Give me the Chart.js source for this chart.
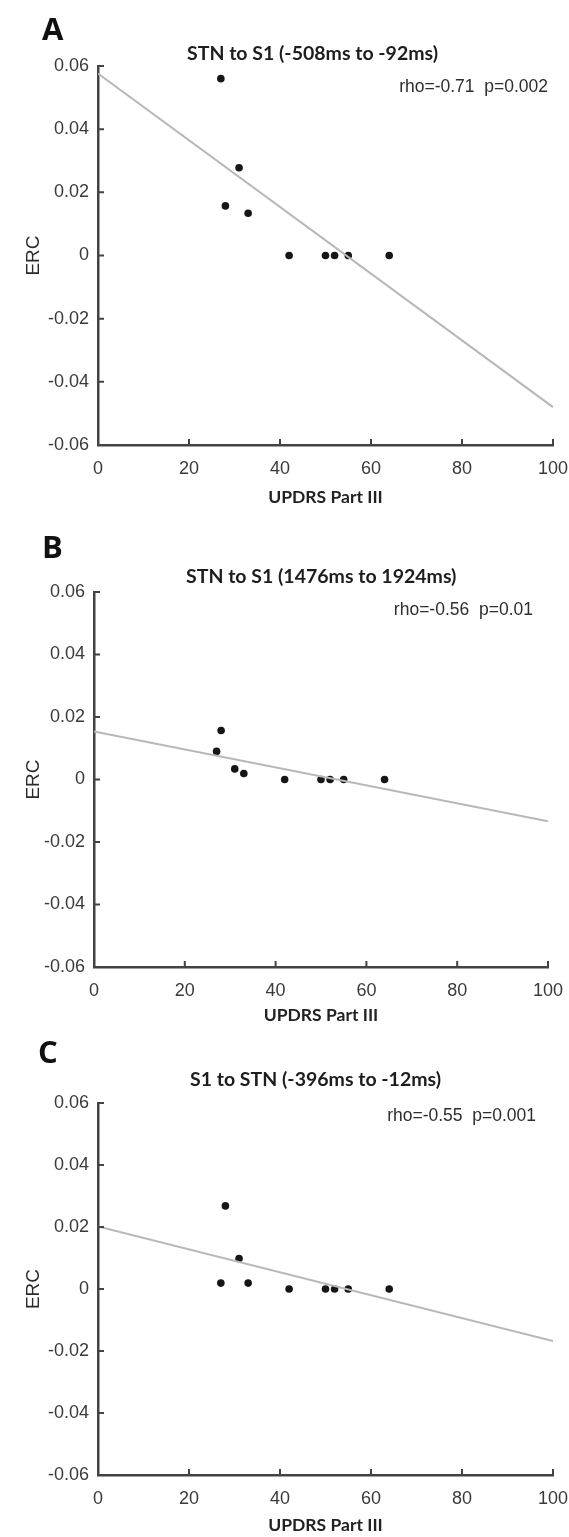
<!DOCTYPE html>
<html>
<head>
<meta charset="utf-8">
<script src="https://cdn.jsdelivr.net/npm/chart.js@4.4.1/dist/chart.umd.min.js"></script>
<style>
  html, body { margin: 0; padding: 0; background: #fff; }
  #page { position: relative; width: 569px; height: 1537px; overflow: hidden; }
  canvas { position: absolute; left: 0; }
  .lbl { position: absolute; white-space: pre; line-height: 1; transform: translateY(-50%); }
  .letter { font-family: 'Open Sans', sans-serif; font-weight: 700; font-size: 31px; color: #111; }
  .title { font-family: Lato, sans-serif; font-weight: 700; font-size: 19.5px; color: #1d1d1d; }
  .stats { font-family: 'Liberation Sans', Arial, sans-serif; font-size: 17.5px; color: #2e2e2e; }
</style>
</head>
<body>
<div id="page"></div>
<script>
// Correlaciones ERC vs UPDRS Part III (tres paneles)

// --- datos ---
const updrs = [27, 28, 31, 33, 42, 50, 52, 55, 64];
const ercA = [0.056, 0.0157, 0.0278, 0.0134, 0, 0, 0, 0, 0];
const ercB = [0.009, 0.0157, 0.0034, 0.0019, 0, 0, 0, 0, 0];
const ercC = [0.0019, 0.0268, 0.0098, 0.0019, 0, 0, 0, 0, 0];

// recta de ajuste: valor en x=0 y en x=100
const fitX = [0, 100];
const fitA = [0.0576, -0.048];
const fitB = [0.0154, -0.0134];
const fitC = [0.0202, -0.0168];

const xTicks = [0, 20, 40, 60, 80, 100];
const yTicks = [-0.06, -0.04, -0.02, 0, 0.02, 0.04, 0.06];

const letters = ['A', 'B', 'C'];
const titles = ['STN to S1 (-508ms to -92ms)', 'STN to S1 (1476ms to 1924ms)', 'S1 to STN (-396ms to -12ms)'];
const stats = ['rho=-0.71  p=0.002', 'rho=-0.56  p=0.01', 'rho=-0.55  p=0.001'];
const series = [ercA, ercB, ercC];
const fits = [fitA, fitB, fitC];

// --- maquetación (px de página) ---
const layout = [
  { top: 0,    h: 520, left: 98, right: 553, plotTop: 66,   plotBottom: 445,  xTitleY: 497,
    letterX: 42, letterY: 28,   titleX: 187, titleY: 53,   statsRight: 548, statsY: 87 },
  { top: 520,  h: 510, left: 94, right: 548, plotTop: 592,  plotBottom: 967,  xTitleY: 1015,
    letterX: 42, letterY: 546,  titleX: 186, titleY: 576,  statsRight: 533, statsY: 610 },
  { top: 1030, h: 507, left: 98, right: 553, plotTop: 1103, plotBottom: 1475, xTitleY: 1525,
    letterX: 38, letterY: 1051, titleX: 190, titleY: 1079, statsRight: 536, statsY: 1116 },
];

const AXIS = '#434343';
const TICK_FONT = { family: "'Liberation Sans', Arial, sans-serif", size: 18 };

function fmtY(v) {
  if (Math.abs(v) < 1e-9) return '0';
  return String(+v.toFixed(2));
}

// marcas de graduación hacia dentro, como en MATLAB
const inwardTicks = {
  id: 'inwardTicks',
  afterDatasetsDraw(chart) {
    const { ctx, chartArea: a, scales: { x, y } } = chart;
    ctx.save();
    ctx.strokeStyle = AXIS;
    ctx.lineWidth = 2;
    ctx.beginPath();
    xTicks.forEach(v => {
      const px = x.getPixelForValue(v);
      ctx.moveTo(px, a.bottom);
      ctx.lineTo(px, a.bottom - 6);
    });
    yTicks.forEach(v => {
      const py = y.getPixelForValue(v);
      ctx.moveTo(a.left, py);
      ctx.lineTo(a.left + 6, py);
    });
    ctx.stroke();
    ctx.restore();
  },
};

const page = document.getElementById('page');

function addLabel(cls, text, style) {
  const d = document.createElement('div');
  d.className = 'lbl ' + cls;
  d.textContent = text;
  Object.assign(d.style, style);
  page.appendChild(d);
}

function renderPanel(i) {
  const L = layout[i];
  const cv = document.createElement('canvas');
  cv.width = 569;
  cv.height = L.h;
  cv.style.top = L.top + 'px';
  page.appendChild(cv);

  const plotTop = L.plotTop - L.top;
  const plotBottom = L.plotBottom - L.top;
  const xTitleFont = { family: "Lato, sans-serif", size: 17.5, weight: 'bold' };
  const xTitlePad = Math.max(0, L.h - 10.5 - (L.xTitleY - L.top));

  new Chart(cv, {
    type: 'scatter',
    data: {
      datasets: [
        {
          data: fitX.map((v, k) => ({ x: v, y: fits[i][k] })),
          showLine: true, borderColor: '#b8b8b8', borderWidth: 2,
          pointRadius: 0, order: 0,
        },
        {
          data: updrs.map((v, k) => ({ x: v, y: series[i][k] })),
          backgroundColor: '#161616', borderWidth: 0, pointRadius: 3.8, order: 1,
        },
      ],
    },
    options: {
      responsive: false, animation: false,
      layout: { padding: { left: 0, top: plotTop, right: 569 - L.right, bottom: 0 } },
      plugins: { legend: { display: false }, tooltip: { enabled: false } },
      scales: {
        x: {
          type: 'linear', min: 0, max: 100,
          afterFit: s => { s.height = L.h - plotBottom; s.paddingLeft = 0; s.paddingRight = 0; },
          afterBuildTicks: s => { s.ticks = xTicks.map(v => ({ value: v })); },
          ticks: { color: '#3a3a3a', font: TICK_FONT, padding: 13, maxRotation: 0 },
          grid: { drawOnChartArea: false, drawTicks: false },
          border: { color: AXIS, width: 2.5 },
          title: { display: true, text: 'UPDRS Part III', color: '#222', font: xTitleFont,
                   padding: { top: 0, bottom: xTitlePad } },
        },
        y: {
          type: 'linear', min: -0.06, max: 0.06,
          afterFit: s => { s.width = L.left; s.paddingTop = 0; s.paddingBottom = 0; },
          afterBuildTicks: s => { s.ticks = yTicks.map(v => ({ value: v })); },
          ticks: { color: '#3a3a3a', font: TICK_FONT, padding: 9, callback: fmtY },
          grid: { drawOnChartArea: false, drawTicks: false },
          border: { color: AXIS, width: 2.5 },
          title: { display: true, text: 'ERC', color: '#2a2a2a',
                   font: { family: "'Liberation Sans', Arial, sans-serif", size: 19 },
                   padding: { top: 22, bottom: 0 } },
        },
      },
    },
    plugins: [inwardTicks],
  });

  addLabel('letter', letters[i], { left: L.letterX + 'px', top: L.letterY + 'px' });
  addLabel('title', titles[i], { left: L.titleX + 'px', top: L.titleY + 'px' });
  addLabel('stats', stats[i], { right: (569 - L.statsRight) + 'px', top: L.statsY + 'px' });
}

[0, 1, 2].forEach(renderPanel);
</script>
</body>
</html>
